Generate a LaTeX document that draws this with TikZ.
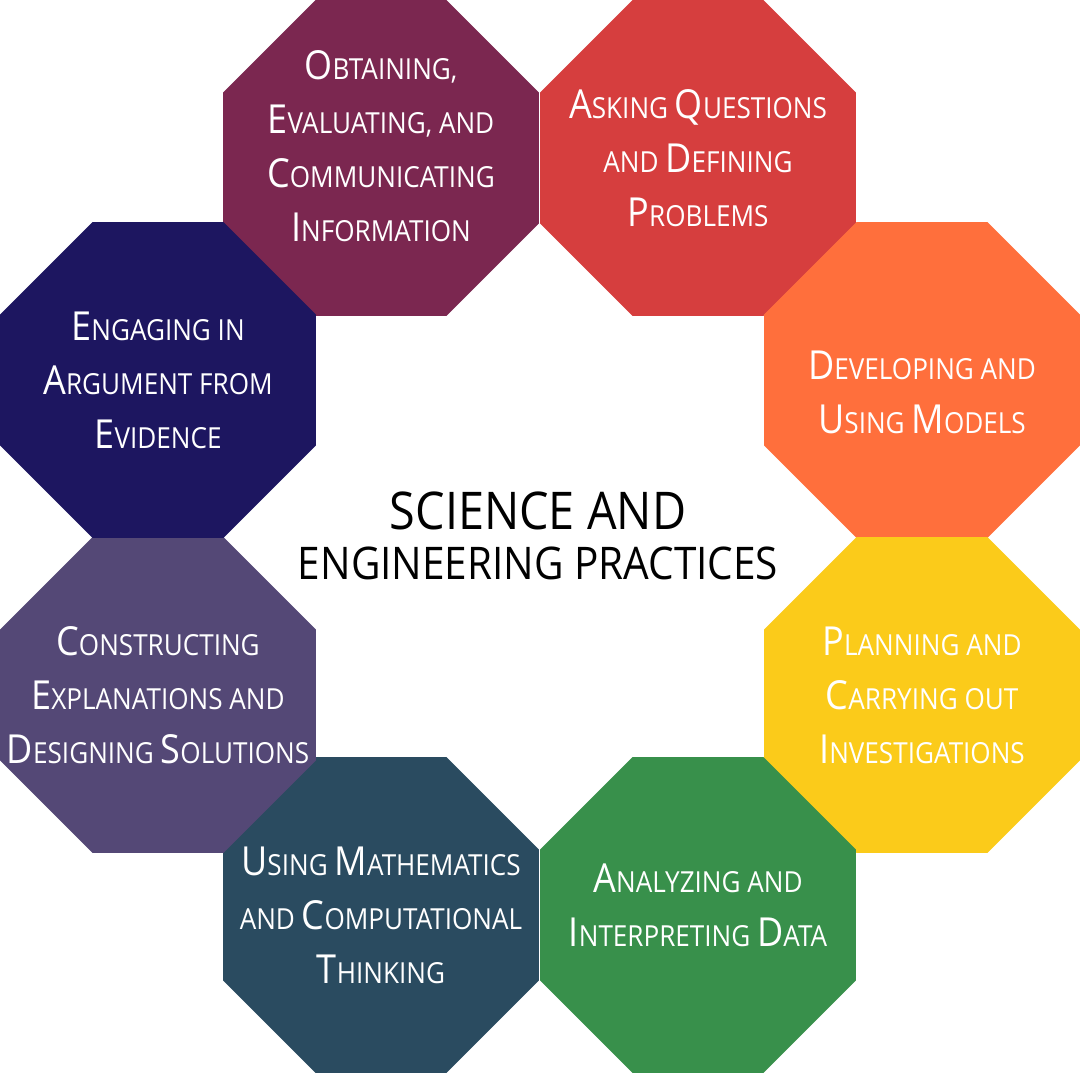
\documentclass[tikz,border=0pt]{standalone}
\usepackage{fontspec}
\setmainfont[FakeStretch=0.9]{Open Sans}
\usetikzlibrary{shapes.geometric}
\newcommand{\C}[1]{{\fontsize{40}{48}\selectfont #1}}
\tikzset{
  oct/.style={regular polygon, regular polygon sides=8, minimum size=342pt, inner sep=0pt, outer sep=0pt, draw=none, fill=#1},
  lab/.style={text=white, align=center, font=\fontsize{29}{54}\selectfont},
}
\definecolor{cPur}{HTML}{7B2750}
\definecolor{cRed}{HTML}{D63E3E}
\definecolor{cOra}{HTML}{FF6F3C}
\definecolor{cYel}{HTML}{FBCB1A}
\definecolor{cGre}{HTML}{38904B}
\definecolor{cTea}{HTML}{2A4B60}
\definecolor{cGry}{HTML}{544876}
\definecolor{cNav}{HTML}{1D1660}
\begin{document}
\begin{tikzpicture}[x=1pt,y=-1pt]
\useasboundingbox (0,0) rectangle (1080,1073);
\node[oct=cPur] (o1) at (381,158) {};
\node[oct=cRed] (o2) at (698,158) {};
\node[oct=cOra] (o3) at (922,380) {};
\node[oct=cYel] (o4) at (922,695) {};
\node[oct=cGre] (o5) at (698,915) {};
\node[oct=cTea] (o6) at (381,915) {};
\node[oct=cGry] (o7) at (158,695) {};
\node[oct=cNav] (o8) at (158,380) {};
\node[lab] (t1) at (381,146) {\C{O}BTAINING,\\\C{E}VALUATING, AND\\\C{C}OMMUNICATING\\\C{I}NFORMATION};
\node[lab] (t2) at (o2) {\C{A}SKING \C{Q}UESTIONS\\AND \C{D}EFINING\\\C{P}ROBLEMS};
\node[lab] (t3) at (922,392) {\C{D}EVELOPING AND\\\C{U}SING \C{M}ODELS};
\node[lab] (t4) at (o4) {\C{P}LANNING AND\\\C{C}ARRYING OUT\\\C{I}NVESTIGATIONS};
\node[lab] (t5) at (698,905) {\C{A}NALYZING AND\\\C{I}NTERPRETING \C{D}ATA};
\node[lab] (t6) at (o6) {\C{U}SING \C{M}ATHEMATICS\\AND \C{C}OMPUTATIONAL\\\C{T}HINKING};
\node[lab] (t7) at (o7) {\C{C}ONSTRUCTING\\\C{E}XPLANATIONS AND\\\C{D}ESIGNING \C{S}OLUTIONS};
\node[lab] (t8) at (o8) {\C{E}NGAGING IN\\\C{A}RGUMENT FROM\\\C{E}VIDENCE};
\node[align=center, font=\fontsize{45}{50}\selectfont] (c) at (538,536) {{\fontsize{52}{60}\selectfont SCIENCE AND}\\ENGINEERING PRACTICES};
\end{tikzpicture}
\end{document}
